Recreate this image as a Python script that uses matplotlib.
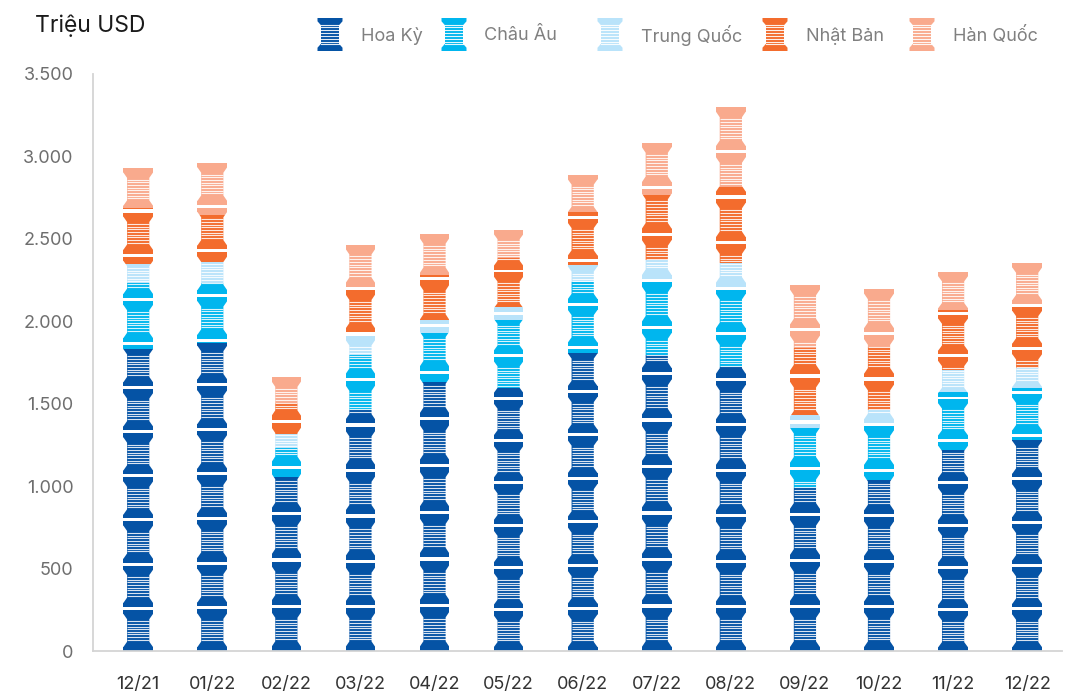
import matplotlib
matplotlib.use("Agg")
import matplotlib.pyplot as plt
from matplotlib.ticker import FuncFormatter

months = ["12/21", "01/22", "02/22", "03/22", "04/22", "05/22", "06/22",
          "07/22", "08/22", "09/22", "10/22", "11/22", "12/22"]
hoa_ky = [1830, 1870, 1055, 1460, 1630, 1595, 1808, 1795, 1723, 990, 1037, 1219, 1280]
chau_au = [400, 364, 176, 333, 297, 413, 430, 455, 467, 364, 346, 352, 315]
trung_quoc = [120, 128, 85, 120, 80, 80, 103, 122, 163, 79, 79, 133, 122]
nhat_ban = [340, 285, 190, 290, 273, 297, 322, 394, 462, 406, 382, 364, 382]
han_quoc = [255, 330, 175, 280, 270, 185, 240, 335, 500, 397, 367, 246, 269]

series_names = ["Hoa Kỳ", "Châu Âu", "Trung Quốc", "Nhật Bản", "Hàn Quốc"]
series_colors = ["#0553a5", "#00b6ee", "#b9e3fa", "#f36c2d", "#f9aa8d"]

# number of spool pictures stretched over each bar (styling)
spools_per_bar = [11, 11, 6, 9, 9, 10, 11, 11, 12, 8, 8, 9, 9]

FONTS = ["Inter", "DejaVu Sans"]
BAR_W = 0.40
WAIST_W = 0.30


def draw_spool_mask(ax, xc, total, count):
    """Cut the spool shape (notches, gaps, stripes) out of a stacked bar with white."""
    h = total / count
    outer = BAR_W / 2 + 0.02
    hw = BAR_W / 2
    ww = WAIST_W / 2
    for k in range(count):
        b = k * h
        for s in (-1, 1):
            ax.fill(
                [xc + s * outer, xc + s * hw, xc + s * ww, xc + s * ww, xc + s * hw, xc + s * outer],
                [b + 0.09 * h, b + 0.09 * h, b + 0.21 * h, b + 0.72 * h, b + 0.84 * h, b + 0.84 * h],
                color="white", lw=0, zorder=3,
            )
        ax.fill(
            [xc - outer, xc + outer, xc + outer, xc - outer],
            [b + 0.935 * h, b + 0.935 * h, b + h + 1, b + h + 1],
            color="white", lw=0, zorder=3,
        )
        stripes = [b + h * (0.255 + 0.06 * j) for j in range(8)]
        ax.hlines(stripes, xc - ww, xc + ww, colors="white", lw=0.8, alpha=0.85, zorder=3)


def draw_legend_icon(lax, cx, top, color, height=33, width=25, waist=18):
    bottom = top + height
    hw, ww = width / 2, waist / 2

    def yy(f):
        return bottom - f * height

    xs = [cx - hw, cx - hw, cx - ww, cx - ww, cx - hw, cx - hw,
          cx + hw, cx + hw, cx + ww, cx + ww, cx + hw, cx + hw]
    ys = [yy(0), yy(0.10), yy(0.22), yy(0.78), yy(0.90), yy(1),
          yy(1), yy(0.90), yy(0.78), yy(0.22), yy(0.10), yy(0)]
    lax.fill(xs, ys, color=color, lw=0)
    for j in range(8):
        y = yy(0.2 + 0.0857 * j)
        lax.plot([cx - ww, cx + ww], [y, y], color="white", lw=0.8, alpha=0.9)


fig = plt.figure(figsize=(10.71, 6.97), dpi=100)
ax = fig.add_axes([93 / 1071, 46 / 697, (1062 - 93) / 1071, (651 - 74) / 697])

x = list(range(len(months)))
series = [hoa_ky, chau_au, trung_quoc, nhat_ban, han_quoc]
bottoms = [0] * len(months)
for values, color in zip(series, series_colors):
    ax.bar(x, values, width=BAR_W, bottom=bottoms, color=color, linewidth=0, zorder=2)
    bottoms = [b + v for b, v in zip(bottoms, values)]

for xc, total, count in zip(x, bottoms, spools_per_bar):
    draw_spool_mask(ax, xc, total, count)

ax.set_xlim(-0.61, 12.47)
ax.set_ylim(0, 3500)
ax.set_yticks(range(0, 3501, 500))
ax.yaxis.set_major_formatter(FuncFormatter(lambda v, _: f"{int(v):,}".replace(",", ".")))
ax.set_xticks(x)
ax.set_xticklabels(months)
ax.tick_params(axis="y", length=0, pad=14, labelsize=13, labelcolor="#6e6e6e")
ax.tick_params(axis="x", length=0, pad=18, labelsize=13, labelcolor="#333333")
for lab in ax.get_xticklabels() + ax.get_yticklabels():
    lab.set_family(FONTS)
for side in ("top", "right"):
    ax.spines[side].set_visible(False)
for side in ("left", "bottom"):
    ax.spines[side].set_color("#d4d4d4")
    ax.spines[side].set_linewidth(1.3)
    ax.spines[side].set_zorder(4)

# legend and unit label drawn in pixel coordinates
lax = fig.add_axes([0, 0, 1, 1], zorder=5)
lax.set_xlim(0, 1071)
lax.set_ylim(697, 0)
lax.axis("off")
lax.patch.set_alpha(0)

lax.text(35, 32, "Triệu USD", fontsize=16.5, color="#1a1a1a", va="baseline", family=FONTS)

icon_x = [330, 454, 610, 775, 922]
label_x = [361, 484, 641, 806, 953]
for name, color, ix, tx in zip(series_names, series_colors, icon_x, label_x):
    draw_legend_icon(lax, ix, 18, color)
    lax.text(tx, 36, name, fontsize=13, color="#808080", va="center", family=FONTS)

fig.savefig("out.png", dpi=100)
